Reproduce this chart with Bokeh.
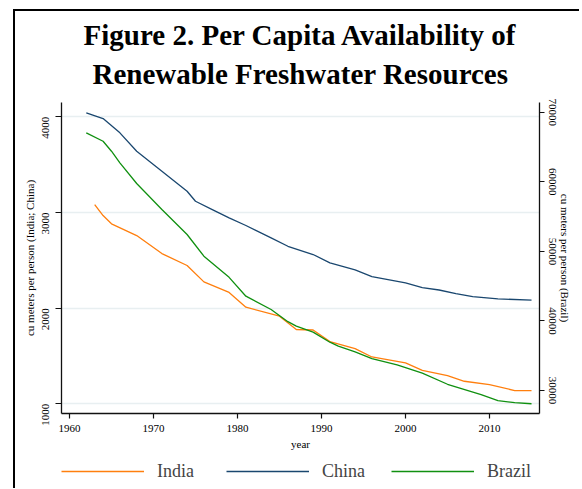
import math
from bokeh.plotting import figure
from bokeh.layouts import column
from bokeh.models import Range1d, LinearAxis, FixedTicker, Legend, LegendItem, Title
from bokeh.embed import file_html
from bokeh.resources import INLINE

# ---- data ----
china_years = [1962, 1964, 1966, 1968, 1971, 1974, 1975, 1977, 1979, 1981, 1984, 1986,
               1989, 1991, 1994, 1996, 2000, 2002, 2004, 2006, 2008, 2011, 2015]
china_vals = [4042, 3982, 3833, 3640, 3431, 3222, 3118, 3031, 2944, 2864, 2735, 2647,
              2561, 2474, 2400, 2330, 2265, 2215, 2190, 2153, 2120, 2097, 2085]

india_years = [1963, 1964, 1965, 1968, 1971, 1974, 1976, 1979, 1981, 1985, 1987, 1989,
               1991, 1994, 1996, 2000, 2002, 2005, 2007, 2010, 2013, 2015]
india_vals = [3083, 2968, 2882, 2759, 2571, 2446, 2275, 2165, 2010, 1916, 1777, 1772,
              1650, 1578, 1490, 1429, 1350, 1296, 1236, 1200, 1139, 1139]

brazil_years = [1962, 1964, 1965, 1966, 1968, 1971, 1974, 1976, 1979, 1981, 1984, 1986,
                1987, 1989, 1991, 1992, 1994, 1996, 1999, 2001, 2002, 2005, 2009, 2011,
                2013, 2015]
brazil_vals = [67040, 65833, 64397, 62730, 59756, 56020, 52428, 49310, 46270, 43560,
               41650, 39900, 39250, 38400, 36950, 36380, 35550, 34600, 33700, 32900,
               32500, 30900, 29400, 28550, 28250, 28100]

x_ticks = [1960, 1970, 1980, 1990, 2000, 2010]
left_ticks = [1000, 2000, 3000, 4000]
right_ticks = [30000, 40000, 50000, 60000, 70000]

title_line1 = "Figure 2. Per Capita Availability of"
title_line2 = "Renewable Freshwater Resources"
left_label = "cu meters per person (India; China)"
right_label = "cu meters per person (Brazil)"
x_label = "year"
series_names = ["India", "China", "Brazil"]

FONT = "Liberation Serif"
C_INDIA = "#ff7f0e"
C_CHINA = "#1a476f"
C_BRAZIL = "#109010"

# ---------------- main chart ----------------
p = figure(frame_width=478, frame_height=311, output_backend="svg",
           toolbar_location=None,
           x_range=Range1d(1959.05, 2015.95), y_range=Range1d(899, 4150),
           min_border_left=61, min_border_right=40, min_border_top=102,
           min_border_bottom=45, title=None)
# black frame lines of the figure (left and top edges)
p.styles = {"background-image": "linear-gradient(#000,#000), linear-gradient(#000,#000)",
            "background-size": "2px 100%, 100% 2px",
            "background-position": "13px 9px, 13px 9px",
            "background-repeat": "no-repeat"}

p.extra_y_ranges = {"brazil": Range1d(26700, 71400)}

p.outline_line_color = None
p.background_fill_color = "white"
p.border_fill_alpha = 0

t2 = Title(text=title_line2, align="center", text_font=FONT, text_font_size="29px",
           text_font_style="bold", text_color="black", standoff=25)
t1 = Title(text=title_line1, align="center", text_font=FONT, text_font_size="29px",
           text_font_style="bold", text_color="black", standoff=-15)
p.add_layout(t2, "above")
p.add_layout(t1, "above")

p.line(india_years, india_vals, line_color=C_INDIA, line_width=1.3)
p.line(china_years, china_vals, line_color=C_CHINA, line_width=1.3)
p.line(brazil_years, brazil_vals, line_color=C_BRAZIL, line_width=1.3,
       y_range_name="brazil")

def style_axis(ax):
    ax.axis_line_color = "#111111"
    ax.axis_line_width = 1.3
    ax.major_tick_line_color = "#111111"
    ax.major_tick_line_width = 1.2
    ax.major_tick_in = 0
    ax.major_tick_out = 6
    ax.minor_tick_line_color = None
    ax.major_label_text_font = FONT
    ax.major_label_text_font_size = "11px"
    ax.major_label_text_color = "black"
    ax.axis_label_text_font = FONT
    ax.axis_label_text_font_size = "11px"
    ax.axis_label_text_font_style = "normal"
    ax.axis_label_text_color = "black"

xa = p.xaxis[0]
style_axis(xa)
xa.ticker = FixedTicker(ticks=x_ticks)
xa.axis_label = x_label
xa.major_tick_out = 5
xa.major_label_standoff = 6
xa.axis_label_standoff = 3

ya = p.yaxis[0]
style_axis(ya)
ya.ticker = FixedTicker(ticks=left_ticks)
ya.axis_label = left_label
ya.major_label_orientation = math.pi / 2
ya.major_label_standoff = 10
ya.axis_label_standoff = 0

yr = LinearAxis(y_range_name="brazil", axis_label=right_label,
                ticker=FixedTicker(ticks=right_ticks))
style_axis(yr)
yr.major_tick_out = 5
yr.major_label_orientation = "vertical"
yr.major_label_standoff = 4
yr.axis_label_standoff = 0
p.add_layout(yr, "right")

p.xgrid.visible = False
p.ygrid.ticker = FixedTicker(ticks=left_ticks)
p.ygrid.grid_line_color = "#e8eff1"
p.ygrid.grid_line_width = 1.5

# ---------------- legend strip below the chart ----------------
lg = figure(width=579, height=30, output_backend="svg", toolbar_location=None,
            x_range=Range1d(0, 1), y_range=Range1d(0, 1), min_border=0,
            x_axis_location=None, y_axis_location=None, title=None)
lg.styles = {"background-image": "linear-gradient(#000,#000)",
             "background-size": "2px 100%",
             "background-position": "13px 0px",
             "background-repeat": "no-repeat"}
lg.grid.visible = False
lg.outline_line_color = None
lg.background_fill_alpha = 0
lg.border_fill_alpha = 0

# same series, drawn in the strip only for their legend keys (outside its ranges)
li = lg.line(india_years, india_vals, line_color=C_INDIA, line_width=1.3)
lc = lg.line(china_years, china_vals, line_color=C_CHINA, line_width=1.3)
lb = lg.line(brazil_years, brazil_vals, line_color=C_BRAZIL, line_width=1.3)

legend = Legend(items=[LegendItem(label=series_names[0], renderers=[li]),
                       LegendItem(label=series_names[1], renderers=[lc]),
                       LegendItem(label=series_names[2], renderers=[lb])],
                orientation="horizontal", location=(0, 5),
                label_text_font=FONT, label_text_font_size="18px",
                glyph_width=83, glyph_height=24, label_height=24, label_width=50,
                label_standoff=13, spacing=19, padding=0, margin=0,
                border_line_alpha=0, background_fill_alpha=0)
lg.add_layout(legend, "center")

layout = column(p, lg, spacing=0)
open("out.html", "w").write(file_html(layout, INLINE))
